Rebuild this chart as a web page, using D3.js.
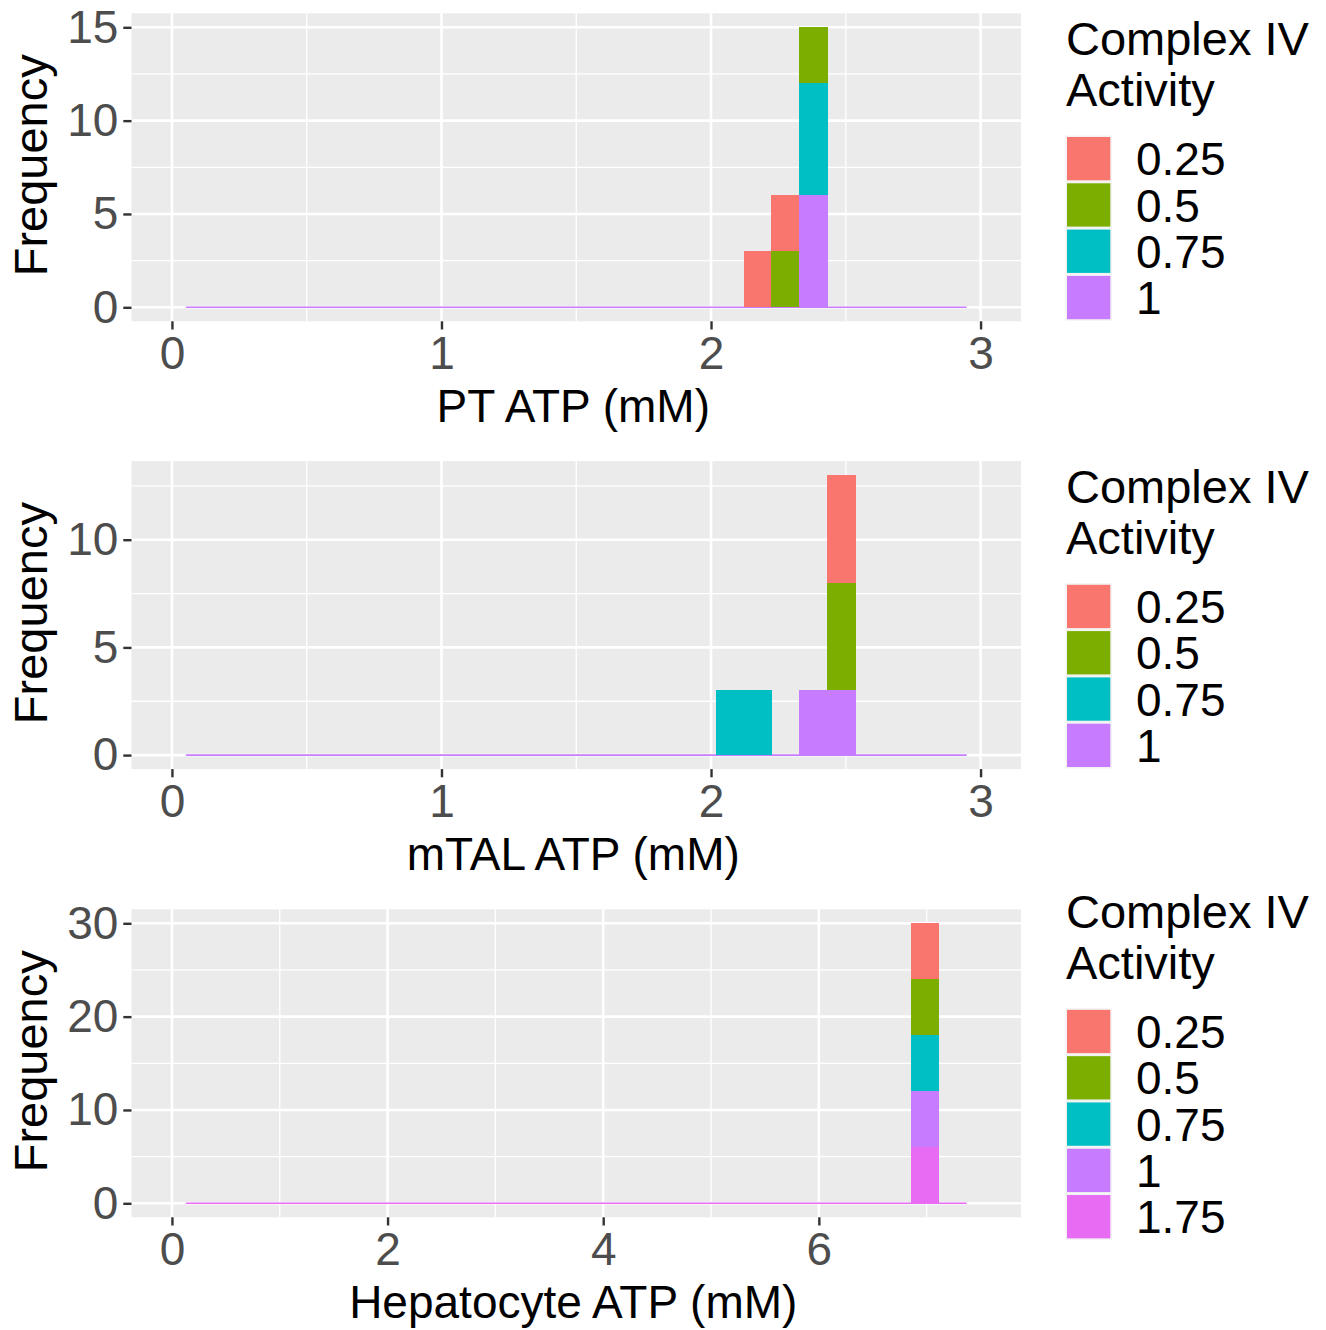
<!DOCTYPE html>
<html lang="en">
<head>
<meta charset="utf-8">
<title>Complex IV activity histograms</title>
<script src="https://cdn.jsdelivr.net/npm/d3@7"></script>
<style>
  body { margin: 0; background: #fff; }
  text { font-family: "Liberation Sans", Arial, sans-serif; }
  .tick text { fill: #4D4D4D; font-size: 46px; }
  .tick line { stroke: #333333; stroke-width: 2.4px; }
</style>
</head>
<body>
<script>
// counts per bin (bin index = centre / binwidth), one row per activity level
var ptBins = [21, 22, 23];
var ptCounts = [
  [3, 3, 0],   // 0.25
  [0, 3, 3],   // 0.5
  [0, 0, 6],   // 0.75
  [0, 0, 6]    // 1
];
var mtalBins = [20, 21, 22, 23, 24];
var mtalCounts = [
  [0, 0, 0, 0, 5],
  [0, 0, 0, 0, 5],
  [3, 3, 0, 0, 0],
  [0, 0, 0, 3, 3]
];
var hepBins = [27];
var hepCounts = [[6], [6], [6], [6], [6]];

var activity4 = ["0.25", "0.5", "0.75", "1"];
var activity5 = ["0.25", "0.5", "0.75", "1", "1.75"];
var fillColors = ["#F8766D", "#7CAE00", "#00BFC4", "#C77CFF", "#E76BF3"];

var xLimits = [[0, 3], [0, 3], [0, 7.5]];
var xTicks = [[0, 1, 2, 3], [0, 1, 2, 3], [0, 2, 4, 6]];
var yTicks = [[0, 5, 10, 15], [0, 5, 10], [0, 10, 20, 30]];
var xTitles = ["PT ATP (mM)", "mTAL ATP (mM)", "Hepatocyte ATP (mM)"];
var nBins = 30;

var panels = [
  {bins: ptBins, counts: ptCounts, groups: activity4},
  {bins: mtalBins, counts: mtalCounts, groups: activity4},
  {bins: hepBins, counts: hepCounts, groups: activity5}
];

var W = 1326, H = 1330;
var left = 131.5, right = 1021;
var panelTops = [13.3, 461.1, 909.3];
var panelH = 308;

var svg = d3.select("body").append("svg")
  .attr("width", W).attr("height", H);

function minors(ticks, dom) {
  var step = ticks[1] - ticks[0], out = [];
  for (var v = ticks[0] - step / 2; v <= dom[1]; v += step) {
    if (v >= dom[0]) out.push(v);
  }
  return out;
}

panels.forEach(function(p, pi) {
  var top = panelTops[pi];
  var lim = xLimits[pi];
  var bw = (lim[1] - lim[0]) / (nBins - 1);
  var xpad = (lim[1] - lim[0]) * 0.05;

  var rows = p.bins.map(function(b, i) {
    var r = {bin: b};
    p.groups.forEach(function(g, gi) { r[g] = p.counts[gi][i]; });
    return r;
  });
  var series = d3.stack().keys(p.groups).order(d3.stackOrderReverse)(rows);
  var ymax = d3.max(series, function(s) { return d3.max(s, function(d) { return d[1]; }); });

  var x = d3.scaleLinear().domain([lim[0] - xpad, lim[1] + xpad]).range([left, right]);
  var y = d3.scaleLinear().domain([-ymax * 0.05, ymax * 1.05]).range([top + panelH, top]);
  var color = d3.scaleOrdinal().domain(p.groups).range(fillColors);

  var g = svg.append("g");
  g.append("rect").attr("x", left).attr("y", top)
    .attr("width", right - left).attr("height", panelH).attr("fill", "#EBEBEB");

  // grid
  minors(yTicks[pi], y.domain()).forEach(function(v) {
    g.append("line").attr("x1", left).attr("x2", right).attr("y1", y(v)).attr("y2", y(v))
      .attr("stroke", "#fff").attr("stroke-width", 1.3);
  });
  minors(xTicks[pi], x.domain()).forEach(function(v) {
    g.append("line").attr("y1", top).attr("y2", top + panelH).attr("x1", x(v)).attr("x2", x(v))
      .attr("stroke", "#fff").attr("stroke-width", 1.3);
  });
  yTicks[pi].forEach(function(v) {
    g.append("line").attr("x1", left).attr("x2", right).attr("y1", y(v)).attr("y2", y(v))
      .attr("stroke", "#fff").attr("stroke-width", 2.6);
  });
  xTicks[pi].forEach(function(v) {
    g.append("line").attr("y1", top).attr("y2", top + panelH).attr("x1", x(v)).attr("x2", x(v))
      .attr("stroke", "#fff").attr("stroke-width", 2.6);
  });

  // empty bins show as a thin line at zero
  g.append("line")
    .attr("x1", x(0.5 * bw)).attr("x2", x((nBins - 1.5) * bw))
    .attr("y1", y(0)).attr("y2", y(0))
    .attr("stroke", color(p.groups[p.groups.length - 1])).attr("stroke-width", 1.6);

  g.selectAll("g.layer").data(series).enter().append("g")
    .attr("class", "layer")
    .attr("fill", function(s) { return color(s.key); })
    .attr("shape-rendering", "crispEdges")
    .selectAll("rect").data(function(s) { return s.filter(function(d) { return d[1] > d[0]; }); })
    .enter().append("rect")
    .attr("x", function(d) { return x((d.data.bin - 0.5) * bw); })
    .attr("width", function(d) { return x((d.data.bin + 0.5) * bw) - x((d.data.bin - 0.5) * bw) + 0.5; })
    .attr("y", function(d) { return y(d[1]); })
    .attr("height", function(d) { return y(d[0]) - y(d[1]); });

  // axes
  var ya = g.append("g").attr("transform", "translate(" + left + ",0)")
    .call(d3.axisLeft(y).tickValues(yTicks[pi]).tickFormat(d3.format("d")).tickSize(8.2).tickPadding(5));
  ya.select(".domain").remove();
  var xa = g.append("g").attr("transform", "translate(0," + (top + panelH) + ")")
    .call(d3.axisBottom(x).tickValues(xTicks[pi]).tickFormat(d3.format("d")).tickSize(8.2).tickPadding(5));
  xa.select(".domain").remove();
  xa.selectAll("text").attr("dy", null).attr("y", 48);

  g.append("text").attr("x", (left + right) / 2 - 3).attr("y", top + panelH + 101)
    .attr("text-anchor", "middle").attr("font-size", 46).attr("fill", "#000")
    .text(xTitles[pi]);
  g.append("text")
    .attr("transform", "translate(47," + (top + panelH / 2 - 2) + ") rotate(-90)")
    .attr("text-anchor", "middle").attr("font-size", 47).attr("fill", "#000")
    .text("Frequency");

  // legend
  var keyH = 46.3;
  var keysTop = top + 123.7 - (p.groups.length - 4) * keyH / 2;
  var lg = g.append("g");
  lg.append("text").attr("x", 1066).attr("y", keysTop - 82)
    .attr("font-size", 47).attr("fill", "#000").text("Complex IV");
  lg.append("text").attr("x", 1066).attr("y", keysTop - 31)
    .attr("font-size", 47).attr("fill", "#000").text("Activity");
  p.groups.forEach(function(gr, i) {
    var ky = keysTop + i * keyH;
    lg.append("rect").attr("x", 1065.5).attr("y", ky - 1.5)
      .attr("width", keyH).attr("height", keyH).attr("fill", "#F2F2F2");
    lg.append("rect").attr("x", 1067).attr("y", ky)
      .attr("width", keyH - 3).attr("height", keyH - 3).attr("fill", color(gr));
    lg.append("text").attr("x", 1136).attr("y", ky + (keyH - 3) / 2)
      .attr("dy", "0.36em").attr("font-size", 46).attr("fill", "#000").text(gr);
  });
});
</script>
</body>
</html>
